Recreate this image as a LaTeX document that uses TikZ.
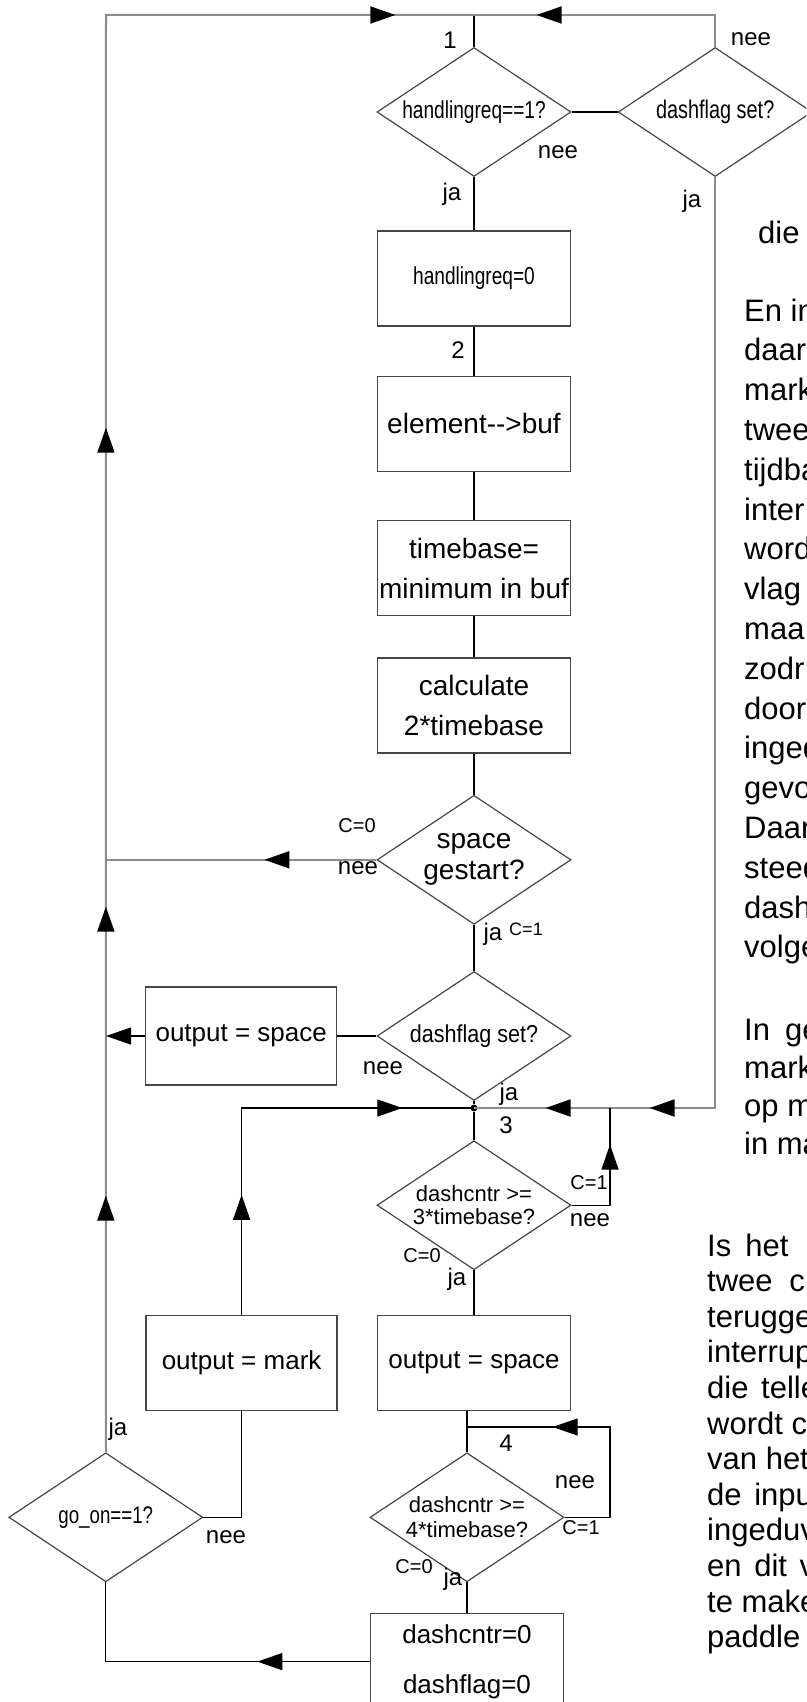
\documentclass[tikz,border=0pt]{standalone}
\usepackage{fontspec}
\setmainfont{Liberation Sans}
\newfontfamily\narrowfont[FakeStretch=0.78]{Liberation Sans}
\newfontfamily\semifont[FakeStretch=0.88]{Liberation Sans}
\usetikzlibrary{
  shapes.geometric,
  arrows.meta,
  positioning,
  decorations.markings
}
\definecolor{linegray}{RGB}{140,140,140}
\definecolor{shapegray}{RGB}{70,70,70}
\newcommand{\flowtip}{\arrow{Triangle[length=25pt,width=17pt,color=black]}}
\tikzset{
  actionbox/.style={
    draw=shapegray, line width=1.4pt,
    minimum width=193pt, minimum height=95pt,
    inner sep=0pt, align=center,
    font=\fontsize{28}{40}\selectfont
  },
  decisionbox/.style={
    draw=shapegray, diamond, line width=1.2pt,
    minimum width=194pt, minimum height=129pt, aspect=1.5,
    inner sep=0pt, align=center,
    font=\fontsize{22}{23}\selectfont
  },
  flowline/.style={draw=black, line width=1.3pt},
  backline/.style={draw=linegray, line width=2pt},
  tipat/.style={
    postaction={decorate,
      decoration={markings, mark=at position #1 with {\flowtip}}}
  },
  flowlabel/.style={font=\fontsize{24}{26}\selectfont, inner sep=0pt},
  smalllabel/.style={font=\fontsize{20}{22}\selectfont, inner sep=0pt},
  bodytext/.style={font=\fontsize{31}{36}\selectfont, inner sep=0pt,
    anchor=base west},
  junction/.style={circle, fill=black, inner sep=0pt, minimum size=7pt}
}

\begin{document}
\begin{tikzpicture}[x=1pt, y=-1pt]

  \useasboundingbox (0,0) rectangle (806,1702);
  \clip (0,0) rectangle (806,1702);

  %% Main column
  \node[decisionbox, font=\narrowfont\fontsize{24.5}{28}\selectfont]
    (D1) at (474,112) {handlingreq==1?};
  \node[decisionbox, font=\narrowfont\fontsize{25.5}{28}\selectfont,
        right=46pt of D1] (D2) {dashflag set?};
  \node[actionbox, font=\narrowfont\fontsize{24.5}{28}\selectfont,
        below=53pt of D1] (B1) {handlingreq=0};
  \node[actionbox, below=49pt of B1] (B2) {element-{}->buf};
  \node[actionbox, below=48pt of B2] (B3) {timebase=\\minimum in buf};
  \node[actionbox, below=41pt of B3] (B4) {calculate\\2*timebase};
  \node[decisionbox, font=\fontsize{28}{31}\selectfont,
        below=41pt of B4] (D3) {space\\gestart?};
  \node[decisionbox, font=\semifont\fontsize{24.5}{28}\selectfont,
        below=46pt of D3] (D4) {dashflag set?};
  \node[actionbox, minimum width=191pt, minimum height=98pt,
        font=\fontsize{26}{30}\selectfont,
        left=39pt of D4] (B5) {output = space};
  \node[decisionbox, below=39pt of D4] (D5) {dashcntr >=\\3*timebase?};
  \node[actionbox, font=\fontsize{26}{30}\selectfont,
        below=44.5pt of D5] (B7) {output = space};
  \node[actionbox, minimum width=191pt, font=\fontsize{26}{30}\selectfont,
        left=39pt of B7] (B6) {output = mark};
  \node[decisionbox, font=\fontsize{22}{25}\selectfont,
        below=41pt of B7, xshift=-7pt] (D6) {dashcntr >=\\4*timebase?};
  \node[actionbox, minimum height=96pt, font=\fontsize{26}{30}\selectfont,
        below=30.5pt of D6] (B8) {dashcntr=0\\[20pt]dashflag=0};
  \node[decisionbox, font=\narrowfont\fontsize{24}{26}\selectfont,
        left=166pt of D6] (D7) {go\_on==1?};

  %% Junctions
  \coordinate (top) at (474,15);
  \coordinate (lft) at (106,15);
  \coordinate (jn3) at (474,1108);
  \coordinate (ret3) at (610,1108);
  \coordinate (jn4) at (467,1427);
  \coordinate (ret4) at (610,1427);
  \node[junction] (dot3) at (jn3) {};

  %% Forward connectors
  \draw[flowline] (top) -- (D1.north);
  \draw[flowline] (D1.east) -- (D2.west);
  \draw[flowline] (D1.south) -- (B1.north);
  \draw[flowline] (B1.south) -- (B2.north);
  \draw[flowline] (B2.south) -- (B3.north);
  \draw[flowline] (B3.south) -- (B4.north);
  \draw[flowline] (B4.south) -- (D3.north);
  \draw[flowline] (D3.south) -- (D4.north);
  \draw[flowline] (D4.west) -- (B5.east);
  \draw[flowline] (D4.south) -- (dot3);
  \draw[flowline] (dot3) -- (D5.north);
  \draw[flowline] (D5.south) -- (B7.north);
  \draw[flowline] (jn4 |- B7.south) -- (jn4) -- (D6.north);
  \draw[flowline] (D6.south) -- (B8.north);
  \draw[flowline] (D7.east) -| (B6.south);

  %% Return connectors
  \draw[backline, tipat=256.5pt, tipat=545.5pt, tipat=1024.5pt,
        tipat=1726.5pt] (D7.north) -- (lft) -- (top);
  \draw[backline, tipat=210.5pt] (D2.north) |- (top);
  \draw[backline, tipat=996.5pt, tipat=1100.5pt] (D2.south) |- (jn3);
  \draw[backline, tipat=112pt] (D3.west) -- (D3.west -| lft);
  \draw[flowline, -{Triangle[length=25pt,width=17pt]}]
    (B5.west) -- (B5.west -| lft);
  \draw[flowline, tipat=120pt, tipat=367.5pt] (B6.north) |- (jn3);
  \draw[flowline, tipat=99pt] (D5.east) -| (ret3);
  \draw[flowline, tipat=193pt] (D6.east) -| (ret4) -- (jn4);
  \draw[flowline, tipat=112.5pt] (B8.west) -| (D7.south);

  %% Branch labels
  \node[flowlabel] (n1) at (450,40) {1};
  \node[flowlabel] (n2) at (458,350) {2};
  \node[flowlabel] (n3) at (506,1125) {3};
  \node[flowlabel] (n4) at (506,1443) {4};
  \node[flowlabel] (l1) at (751,39) {nee};
  \node[flowlabel] (l2) at (558,152) {nee};
  \node[flowlabel] (l3) at (452,194) {ja};
  \node[flowlabel] (l4) at (692,201) {ja};
  \node[smalllabel] (l5) at (357,826) {C=0};
  \node[flowlabel] (l6) at (358,868) {nee};
  \node[flowlabel] (l7) at (493,934) {ja};
  \node[smalllabel, font=\fontsize{18}{20}\selectfont] (l8) at (526,929) {C=1};
  \node[flowlabel] (l9) at (383,1068) {nee};
  \node[flowlabel] (l10) at (509,1094) {ja};
  \node[smalllabel] (l11) at (589,1183) {C=1};
  \node[flowlabel] (l12) at (590,1220) {nee};
  \node[smalllabel] (l13) at (422,1256) {C=0};
  \node[flowlabel] (l14) at (457,1279) {ja};
  \node[flowlabel] (l15) at (118,1429) {ja};
  \node[flowlabel] (l16) at (575,1482) {nee};
  \node[smalllabel] (l17) at (581,1528) {C=1};
  \node[smalllabel] (l18) at (414,1567) {C=0};
  \node[flowlabel] (l19) at (453,1579) {ja};
  \node[flowlabel] (l20) at (226,1537) {nee};

  %% Body text beside the chart
  \node[bodytext] (die) at (758,243) {die};
  \foreach \w [count=\i from 0] in {En in, daar, mark, twee, tijdba, inter,
      word, vlag, maa, zodr, door, inged, gevo, Daar, steed, dash, volge}
    \node[bodytext] (pa\i) at (744,{321+39.8*\i}) {\w};
  \foreach \w [count=\i from 0] in {{In\hspace{15pt}ge}, mark, op m, in ma}
    \node[bodytext] (pb\i) at (744,{1040+38*\i}) {\w};
  \foreach \w [count=\i from 0] in {{Is\hspace{14pt}het},
      {twee\hspace{8pt} c}, terugge, interrup, {die\hspace{4pt} telle},
      wordt c, van het, {de\hspace{4pt} inpu}, ingeduv,
      {en\hspace{4pt} dit\hspace{4pt} v}, te make, paddle}
    \node[bodytext] (pc\i) at (707,{1256+35.6*\i}) {\w};

\end{tikzpicture}
\end{document}
